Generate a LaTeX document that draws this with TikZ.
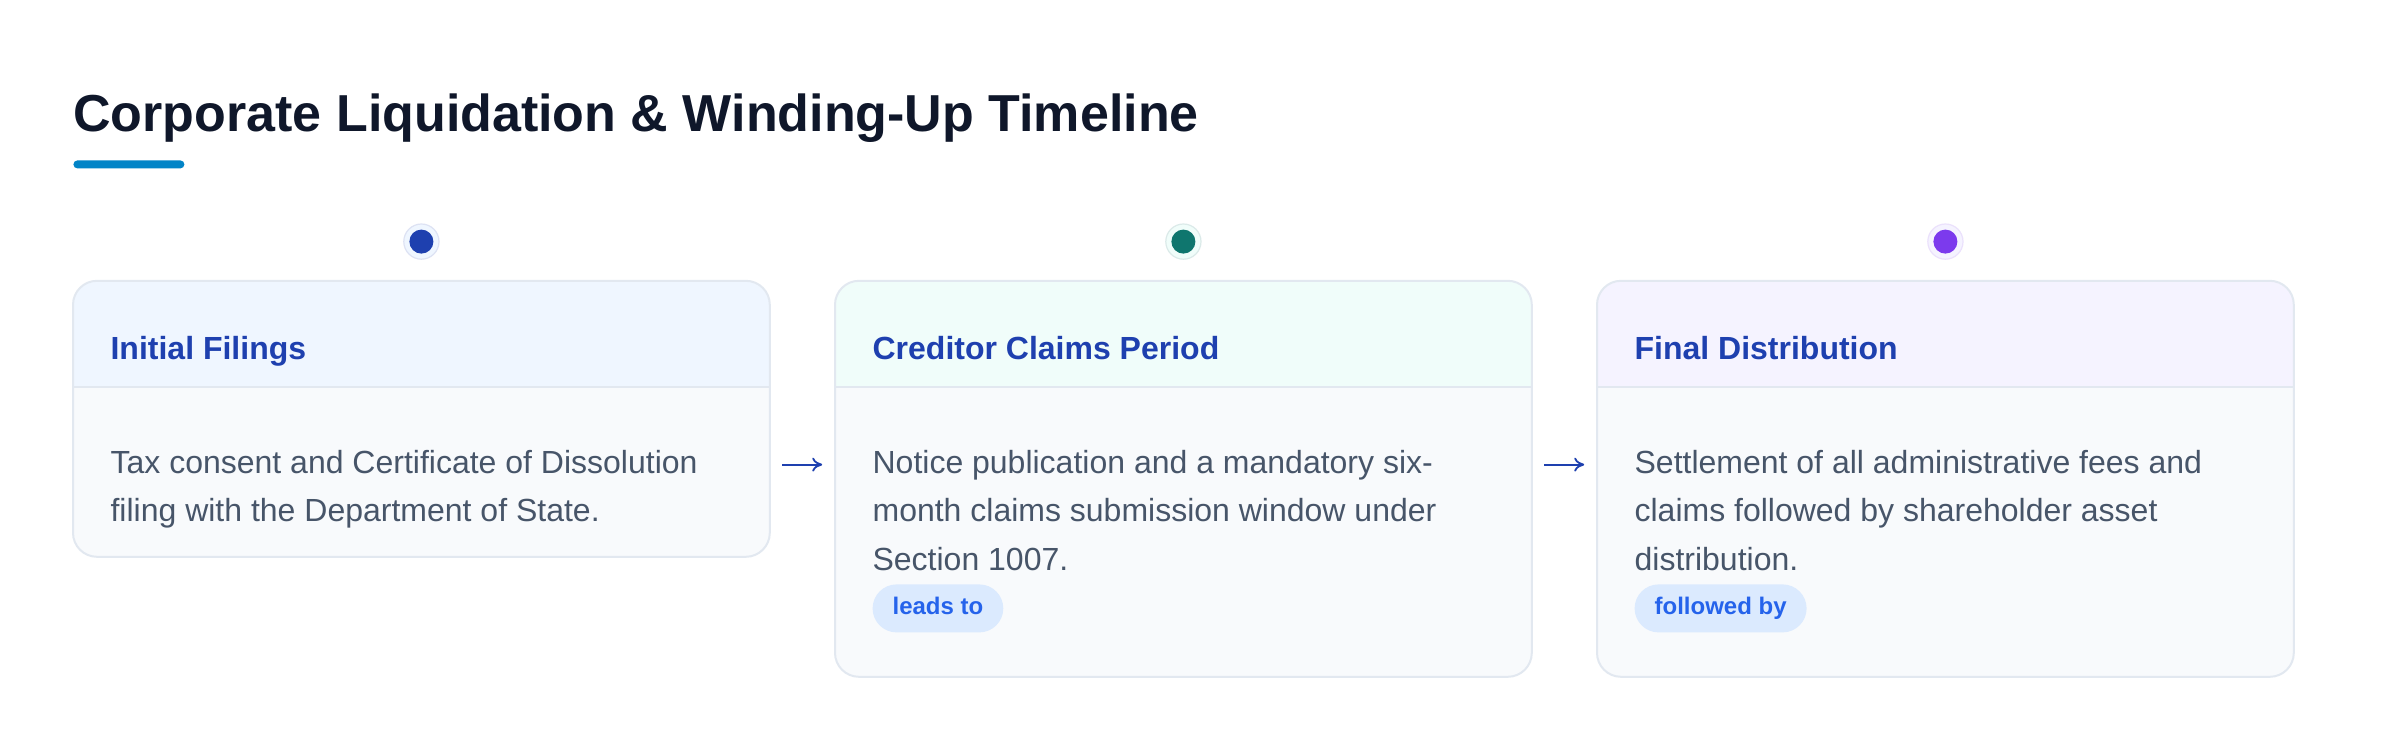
\documentclass[tikz,border=0pt]{standalone}
\usepackage{fontspec}
\setmainfont{Liberation Sans}
\usetikzlibrary{calc,arrows.meta}
\definecolor{titlec}{HTML}{0F172A}
\definecolor{accent}{HTML}{0284C7}
\definecolor{hdrtext}{HTML}{1E40AF}
\definecolor{bodytext}{HTML}{475569}
\definecolor{bodyfill}{HTML}{F8FAFC}
\definecolor{borderc}{HTML}{E2E8F0}
\definecolor{hdrA}{HTML}{EFF6FF}
\definecolor{hdrB}{HTML}{F0FDFA}
\definecolor{hdrC}{HTML}{F5F3FF}
\definecolor{dotA}{HTML}{1E40AF}
\definecolor{dotB}{HTML}{0F766E}
\definecolor{dotC}{HTML}{7C3AED}
\definecolor{badgefill}{HTML}{DBEAFE}
\definecolor{badgetext}{HTML}{2563EB}
\definecolor{arrowc}{HTML}{1E40AF}
\begin{document}
\begin{tikzpicture}[x=1pt,y=-1pt,
  cardbox/.style={rectangle, rounded corners=12pt, fill=bodyfill, inner sep=0pt, minimum width=348pt, anchor=north west},
  hdrlabel/.style={anchor=base west, inner sep=0pt, font=\fontsize{16}{19}\selectfont\bfseries, text=hdrtext},
  bodylabel/.style={anchor=base west, inner sep=0pt, align=left, font=\fontsize{16}{24.3}\selectfont, text=bodytext},
  badge/.style={rounded corners=12pt, fill=badgefill, text=badgetext, font=\fontsize{12}{14}\selectfont\bfseries, inner xsep=10pt, inner ysep=0pt, minimum height=24pt, anchor=north west, text height=9pt, text depth=2.5pt},
  halo/.style={circle, inner sep=0pt, minimum size=17.6pt, line width=0.6pt},
  dotmark/.style={circle, inner sep=0pt, minimum size=12pt},
  flow/.style={draw=arrowc, line width=0.9pt, -{To[length=5pt,width=7pt]}},
]
\useasboundingbox[fill=white] (0,0) rectangle (1200,375);

\node[anchor=base west, inner sep=0pt, font=\fontsize{26}{30}\selectfont\bfseries, text=titlec] (title) at (36.5,65.8) {Corporate Liquidation \& Winding-Up Timeline};
\node[fill=accent, rounded corners=2pt, minimum width=55.5pt, minimum height=4pt, inner sep=0pt, anchor=north west] (bar) at (36.5,80) {};

\foreach \i/\x/\h/\hc/\dc in {1/36.5/137.6/hdrA/dotA, 2/417.5/197.6/hdrB/dotB, 3/798.5/197.6/hdrC/dotC} {
  \node[cardbox, minimum height=\h pt] (c\i) at (\x,140.4) {};
  \begin{scope}
    \clip[rounded corners=12pt] (c\i.north west) rectangle (c\i.south east);
    \fill[\hc] (c\i.north west) rectangle ($(c\i.north east)+(0,53)$);
  \end{scope}
  \draw[borderc, line width=1pt] ($(c\i.north west)+(0,53)$) -- ($(c\i.north east)+(0,53)$);
  \draw[borderc, line width=1pt, rounded corners=12pt] (c\i.north west) rectangle (c\i.south east);
  \node[halo, fill=\hc, draw=\dc!15] (h\i) at ($(c\i.north)+(0,-19.6)$) {};
  \node[dotmark, fill=\dc] (d\i) at (h\i) {};
}

\node[hdrlabel] (t1) at ($(c1.north west)+(18.6,39.4)$) {Initial Filings};
\node[hdrlabel] (t2) at ($(c2.north west)+(18.6,39.4)$) {Creditor Claims Period};
\node[hdrlabel] (t3) at ($(c3.north west)+(18.6,39.4)$) {Final Distribution};

% base anchor of a multi-line node is its last line's baseline
\node[bodylabel] (b1) at ($(c1.north west)+(18.6,120.4)$) {Tax consent and Certificate of Dissolution\\filing with the Department of State.};
\node[bodylabel] (b2) at ($(c2.north west)+(18.6,144.7)$) {Notice publication and a mandatory six-\\month claims submission window under\\Section 1007.};
\node[bodylabel] (b3) at ($(c3.north west)+(18.6,144.7)$) {Settlement of all administrative fees and\\claims followed by shareholder asset\\distribution.};

\node[badge] (g2) at ($(c2.north west)+(18.6,151.6)$) {leads to};
\node[badge] (g3) at ($(c3.north west)+(18.6,151.6)$) {followed by};

\coordinate (a1s) at ($(c1.north east)+(6.3,91.9)$);
\coordinate (a1e) at ($(c2.north west)+(-6.4,91.9)$);
\coordinate (a2s) at ($(c2.north east)+(6.3,91.9)$);
\coordinate (a2e) at ($(c3.north west)+(-6.4,91.9)$);
\draw[flow] (a1s) -- (a1e);
\draw[flow] (a2s) -- (a2e);
\end{tikzpicture}
\end{document}
